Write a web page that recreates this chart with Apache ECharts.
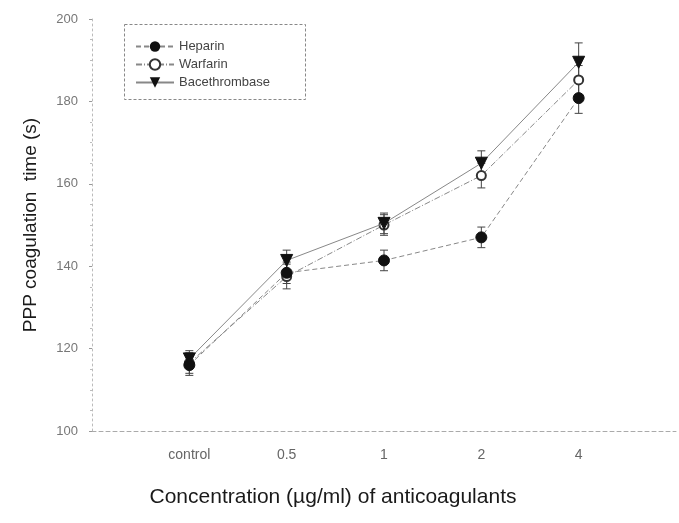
<!DOCTYPE html>
<html><head><meta charset="utf-8">
<script src="https://cdn.jsdelivr.net/npm/echarts@6/dist/echarts.min.js"></script>
<style>html,body{margin:0;padding:0;background:#fff}#c{width:679px;height:523px}</style>
</head><body><div id="c"></div>
<script>
var categories = ['', 'control', '0.5', '1', '2', '4', ''];
var heparin = [null, 116, 138.4, 141.4, 147, 180.8];
var heparinErr = [null, 2.5, 2.6, 2.5, 2.5, 3.7];
var warfarin = [null, 116.5, 137.5, 150, 162, 185.2];
var warfarinErr = [null, 2.5, 3, 2.5, 3, 3.5];
var bacethrombase = [null, 117.5, 141.4, 150.4, 165, 189.5];
var bacethrombaseErr = [null, 2, 2.5, 2.5, 3, 4.7];

function errData(vals, errs) {
  var out = [];
  for (var i = 0; i < vals.length; i++) {
    if (vals[i] != null) out.push([i, vals[i] - errs[i], vals[i] + errs[i]]);
  }
  return out;
}
function errRender(params, api) {
  var x = api.value(0);
  var lo = api.coord([x, api.value(1)]);
  var hi = api.coord([x, api.value(2)]);
  var w = 4;
  var st = { stroke: '#444', lineWidth: 1 };
  return { type: 'group', children: [
    { type: 'line', shape: { x1: lo[0], y1: lo[1], x2: hi[0], y2: hi[1] }, style: st },
    { type: 'line', shape: { x1: lo[0] - w, y1: lo[1], x2: lo[0] + w, y2: lo[1] }, style: st },
    { type: 'line', shape: { x1: hi[0] - w, y1: hi[1], x2: hi[0] + w, y2: hi[1] }, style: st }
  ]};
}
var chart = echarts.init(document.getElementById('c'), null, { renderer: 'canvas' });
var font = 'Liberation Sans, Arial, sans-serif';
chart.setOption({
  animation: false,
  backgroundColor: '#fff',
  grid: { left: 92, right: 0, top: 19, bottom: 92 },
  graphic: [{
    type: 'rect', left: 122, top: 22, z: 0,
    shape: { width: 181, height: 75 },
    style: { fill: 'none', stroke: '#888', lineWidth: 1, lineDash: [3, 2] }
  }],
  legend: {
    data: ['Heparin', 'Warfarin', 'Bacethrombase'],
    orient: 'vertical', left: 130, top: 35, itemGap: 5,
    itemWidth: 38, itemHeight: 13,
    textStyle: { fontFamily: font, fontSize: 13, color: '#444' }
  },
  xAxis: {
    type: 'category', data: categories, boundaryGap: false,
    name: 'Concentration (µg/ml) of anticoagulants',
    nameLocation: 'middle', nameGap: 56,
    nameTextStyle: { fontFamily: font, fontSize: 21, color: '#1a1a1a', padding: [0, 102, 0, 0] },
    axisLine: { lineStyle: { color: '#aaa', type: [4, 3], width: 1 } },
    axisTick: { show: false },
    axisLabel: { fontFamily: font, fontSize: 14, color: '#666', margin: 17, interval: 0 },
    splitLine: { show: false }
  },
  yAxis: {
    type: 'value', min: 100, max: 200, interval: 20,
    name: 'PPP coagulation  time (s)',
    nameLocation: 'middle', nameGap: 52,
    nameTextStyle: { fontFamily: font, fontSize: 19, color: '#1a1a1a' },
    axisLine: { show: true, lineStyle: { color: '#bbb', type: [2, 3], width: 1 } },
    axisTick: { show: true, length: 3, lineStyle: { color: '#999' } },
    minorTick: { show: true, splitNumber: 4, length: 2, lineStyle: { color: '#bbb' } },
    axisLabel: { fontFamily: font, fontSize: 13, color: '#777', margin: 14 },
    splitLine: { show: false }
  },
  series: [
    { name: 'Heparin', type: 'line', data: heparin, z: 4,
      symbol: 'circle', symbolSize: 11, showAllSymbol: true,
      itemStyle: { color: '#111', borderColor: '#111' },
      lineStyle: { color: '#888', width: 1, type: [5, 3] } },
    { name: 'Warfarin', type: 'line', data: warfarin, z: 3,
      symbol: 'emptyCircle', symbolSize: 9, showAllSymbol: true,
      itemStyle: { color: '#333', borderWidth: 1.3 },
      lineStyle: { color: '#888', width: 1, type: [6, 2, 1, 2] } },
    { name: 'Bacethrombase', type: 'line', data: bacethrombase, z: 5,
      symbol: 'triangle', symbolRotate: 180, symbolSize: 12, showAllSymbol: true,
      itemStyle: { color: '#111', borderColor: '#111' },
      lineStyle: { color: '#888', width: 1, type: 'solid' } },
    { type: 'custom', name: 'errH', data: errData(heparin, heparinErr), renderItem: errRender, z: 2, silent: true },
    { type: 'custom', name: 'errW', data: errData(warfarin, warfarinErr), renderItem: errRender, z: 2, silent: true },
    { type: 'custom', name: 'errB', data: errData(bacethrombase, bacethrombaseErr), renderItem: errRender, z: 2, silent: true }
  ]
});
</script></body></html>
